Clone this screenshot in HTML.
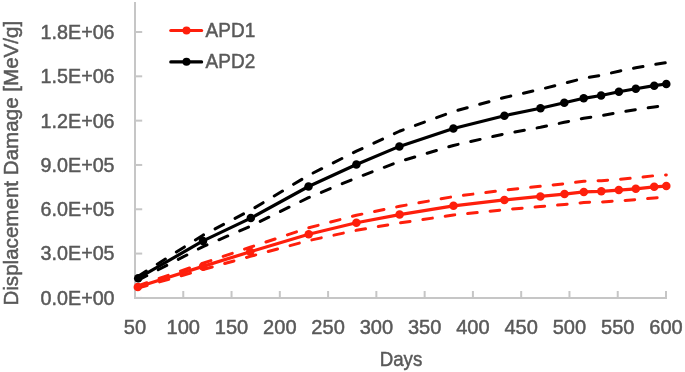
<!DOCTYPE html>
<html><head><meta charset="utf-8"><style>
html,body{margin:0;padding:0;background:#fff;}
svg{display:block;will-change:transform;}
#w{width:685px;height:372px;}
.t{font-family:"Liberation Sans",sans-serif;font-size:21px;fill:#595959;stroke:#595959;stroke-width:0.5px;}
</style></head><body>
<div id="w"><svg width="685" height="372" viewBox="0 0 685 372">
<rect width="685" height="372" fill="#fff"/>
<line x1="135" y1="2" x2="135" y2="298.9" stroke="#c6c6c6" stroke-width="2"/>
<line x1="134" y1="297.9" x2="667" y2="297.9" stroke="#c6c6c6" stroke-width="2"/>
<line x1="135" y1="297.90" x2="142.2" y2="297.90" stroke="#c6c6c6" stroke-width="2"/>
<line x1="135" y1="253.58" x2="142.2" y2="253.58" stroke="#c6c6c6" stroke-width="2"/>
<line x1="135" y1="209.27" x2="142.2" y2="209.27" stroke="#c6c6c6" stroke-width="2"/>
<line x1="135" y1="164.95" x2="142.2" y2="164.95" stroke="#c6c6c6" stroke-width="2"/>
<line x1="135" y1="120.64" x2="142.2" y2="120.64" stroke="#c6c6c6" stroke-width="2"/>
<line x1="135" y1="76.32" x2="142.2" y2="76.32" stroke="#c6c6c6" stroke-width="2"/>
<line x1="135" y1="32.00" x2="142.2" y2="32.00" stroke="#c6c6c6" stroke-width="2"/>
<line x1="183.27" y1="291" x2="183.27" y2="297.9" stroke="#c6c6c6" stroke-width="2"/>
<line x1="231.55" y1="291" x2="231.55" y2="297.9" stroke="#c6c6c6" stroke-width="2"/>
<line x1="279.82" y1="291" x2="279.82" y2="297.9" stroke="#c6c6c6" stroke-width="2"/>
<line x1="328.09" y1="291" x2="328.09" y2="297.9" stroke="#c6c6c6" stroke-width="2"/>
<line x1="376.36" y1="291" x2="376.36" y2="297.9" stroke="#c6c6c6" stroke-width="2"/>
<line x1="424.64" y1="291" x2="424.64" y2="297.9" stroke="#c6c6c6" stroke-width="2"/>
<line x1="472.91" y1="291" x2="472.91" y2="297.9" stroke="#c6c6c6" stroke-width="2"/>
<line x1="521.18" y1="291" x2="521.18" y2="297.9" stroke="#c6c6c6" stroke-width="2"/>
<line x1="569.45" y1="291" x2="569.45" y2="297.9" stroke="#c6c6c6" stroke-width="2"/>
<line x1="617.73" y1="291" x2="617.73" y2="297.9" stroke="#c6c6c6" stroke-width="2"/>
<line x1="666.00" y1="291" x2="666.00" y2="297.9" stroke="#c6c6c6" stroke-width="2"/>
<text x="114.60" y="304.80" text-anchor="end" textLength="74.0" lengthAdjust="spacingAndGlyphs" class="t">0.0E+00</text>
<text x="114.60" y="260.48" text-anchor="end" textLength="74.0" lengthAdjust="spacingAndGlyphs" class="t">3.0E+05</text>
<text x="114.60" y="216.17" text-anchor="end" textLength="74.0" lengthAdjust="spacingAndGlyphs" class="t">6.0E+05</text>
<text x="114.60" y="171.85" text-anchor="end" textLength="74.0" lengthAdjust="spacingAndGlyphs" class="t">9.0E+05</text>
<text x="114.60" y="127.54" text-anchor="end" textLength="74.0" lengthAdjust="spacingAndGlyphs" class="t">1.2E+06</text>
<text x="114.60" y="83.22" text-anchor="end" textLength="74.0" lengthAdjust="spacingAndGlyphs" class="t">1.5E+06</text>
<text x="114.60" y="38.90" text-anchor="end" textLength="74.0" lengthAdjust="spacingAndGlyphs" class="t">1.8E+06</text>
<text x="135.00" y="334.4" text-anchor="middle" textLength="22.30" lengthAdjust="spacingAndGlyphs" class="t">50</text>
<text x="183.27" y="334.4" text-anchor="middle" textLength="33.45" lengthAdjust="spacingAndGlyphs" class="t">100</text>
<text x="231.55" y="334.4" text-anchor="middle" textLength="33.45" lengthAdjust="spacingAndGlyphs" class="t">150</text>
<text x="279.82" y="334.4" text-anchor="middle" textLength="33.45" lengthAdjust="spacingAndGlyphs" class="t">200</text>
<text x="328.09" y="334.4" text-anchor="middle" textLength="33.45" lengthAdjust="spacingAndGlyphs" class="t">250</text>
<text x="376.36" y="334.4" text-anchor="middle" textLength="33.45" lengthAdjust="spacingAndGlyphs" class="t">300</text>
<text x="424.64" y="334.4" text-anchor="middle" textLength="33.45" lengthAdjust="spacingAndGlyphs" class="t">350</text>
<text x="472.91" y="334.4" text-anchor="middle" textLength="33.45" lengthAdjust="spacingAndGlyphs" class="t">400</text>
<text x="521.18" y="334.4" text-anchor="middle" textLength="33.45" lengthAdjust="spacingAndGlyphs" class="t">450</text>
<text x="569.45" y="334.4" text-anchor="middle" textLength="33.45" lengthAdjust="spacingAndGlyphs" class="t">500</text>
<text x="617.73" y="334.4" text-anchor="middle" textLength="33.45" lengthAdjust="spacingAndGlyphs" class="t">550</text>
<text x="666.00" y="334.4" text-anchor="middle" textLength="33.45" lengthAdjust="spacingAndGlyphs" class="t">600</text>
<text x="401" y="366" text-anchor="middle" textLength="42.6" lengthAdjust="spacingAndGlyphs" class="t">Days</text>
<text transform="translate(18.0,163.2) rotate(-90)" x="0" y="0" text-anchor="middle" textLength="284.8" lengthAdjust="spacingAndGlyphs" class="t">Displacement Damage [MeV/g]</text>
<polyline points="137.80,285.91 203.00,263.25 250.20,247.19 308.70,227.83 356.40,215.29 399.60,206.27 453.50,196.59 504.40,190.10 540.40,186.25 564.50,183.72 583.80,181.30 601.30,180.64 618.80,179.32 635.80,177.89 654.20,175.69 666.30,174.92" fill="none" stroke="#fe1f0c" stroke-width="3" stroke-dasharray="9.6 12.98" stroke-linecap="round" stroke-linejoin="round"/>
<polyline points="137.80,288.09 203.00,269.55 250.20,256.41 308.70,240.57 356.40,230.31 399.60,222.93 453.50,215.01 504.40,209.70 540.40,206.55 564.50,204.48 583.80,202.50 601.30,201.96 618.80,200.88 635.80,199.71 654.20,197.91 666.30,197.28" fill="none" stroke="#fe1f0c" stroke-width="3" stroke-dasharray="9.6 12.98" stroke-linecap="round" stroke-linejoin="round"/>
<polyline points="138.20,276.23 203.00,235.20 250.80,210.12 308.50,175.36 356.40,151.16 399.40,131.25 453.40,111.56 504.40,97.48 540.50,89.34 564.30,83.29 583.70,78.34 601.10,75.26 618.90,71.19 635.80,67.78 654.20,64.48 666.30,62.61" fill="none" stroke="#000000" stroke-width="3" stroke-dasharray="9.6 12.98" stroke-linecap="round" stroke-linejoin="round"/>
<polyline points="138.20,280.17 203.00,246.60 250.80,226.08 308.50,197.64 356.40,177.84 399.40,161.55 453.40,145.44 504.40,133.92 540.50,127.26 564.30,122.31 583.70,118.26 601.10,115.74 618.90,112.41 635.80,109.62 654.20,106.92 666.30,105.39" fill="none" stroke="#000000" stroke-width="3" stroke-dasharray="9.6 12.98" stroke-linecap="round" stroke-linejoin="round"/>
<polyline points="137.80,287.00 203.00,266.40 250.20,251.80 308.70,234.20 356.40,222.80 399.60,214.60 453.50,205.80 504.40,199.90 540.40,196.40 564.50,194.10 583.80,191.90 601.30,191.30 618.80,190.10 635.80,188.80 654.20,186.80 666.30,186.10" fill="none" stroke="#fe1f0c" stroke-width="3.2" stroke-linejoin="round" stroke-linecap="round"/>
<circle cx="137.80" cy="287.00" r="4.25" fill="#fe1f0c"/>
<circle cx="203.00" cy="266.40" r="4.25" fill="#fe1f0c"/>
<circle cx="250.20" cy="251.80" r="4.25" fill="#fe1f0c"/>
<circle cx="308.70" cy="234.20" r="4.25" fill="#fe1f0c"/>
<circle cx="356.40" cy="222.80" r="4.25" fill="#fe1f0c"/>
<circle cx="399.60" cy="214.60" r="4.25" fill="#fe1f0c"/>
<circle cx="453.50" cy="205.80" r="4.25" fill="#fe1f0c"/>
<circle cx="504.40" cy="199.90" r="4.25" fill="#fe1f0c"/>
<circle cx="540.40" cy="196.40" r="4.25" fill="#fe1f0c"/>
<circle cx="564.50" cy="194.10" r="4.25" fill="#fe1f0c"/>
<circle cx="583.80" cy="191.90" r="4.25" fill="#fe1f0c"/>
<circle cx="601.30" cy="191.30" r="4.25" fill="#fe1f0c"/>
<circle cx="618.80" cy="190.10" r="4.25" fill="#fe1f0c"/>
<circle cx="635.80" cy="188.80" r="4.25" fill="#fe1f0c"/>
<circle cx="654.20" cy="186.80" r="4.25" fill="#fe1f0c"/>
<circle cx="666.30" cy="186.10" r="4.25" fill="#fe1f0c"/>
<polyline points="138.20,278.20 203.00,240.90 250.80,218.10 308.50,186.50 356.40,164.50 399.40,146.40 453.40,128.50 504.40,115.70 540.50,108.30 564.30,102.80 583.70,98.30 601.10,95.50 618.90,91.80 635.80,88.70 654.20,85.70 666.30,84.00" fill="none" stroke="#000000" stroke-width="3.2" stroke-linejoin="round" stroke-linecap="round"/>
<circle cx="138.20" cy="278.20" r="4.25" fill="#000000"/>
<circle cx="203.00" cy="240.90" r="4.25" fill="#000000"/>
<circle cx="250.80" cy="218.10" r="4.25" fill="#000000"/>
<circle cx="308.50" cy="186.50" r="4.25" fill="#000000"/>
<circle cx="356.40" cy="164.50" r="4.25" fill="#000000"/>
<circle cx="399.40" cy="146.40" r="4.25" fill="#000000"/>
<circle cx="453.40" cy="128.50" r="4.25" fill="#000000"/>
<circle cx="504.40" cy="115.70" r="4.25" fill="#000000"/>
<circle cx="540.50" cy="108.30" r="4.25" fill="#000000"/>
<circle cx="564.30" cy="102.80" r="4.25" fill="#000000"/>
<circle cx="583.70" cy="98.30" r="4.25" fill="#000000"/>
<circle cx="601.10" cy="95.50" r="4.25" fill="#000000"/>
<circle cx="618.90" cy="91.80" r="4.25" fill="#000000"/>
<circle cx="635.80" cy="88.70" r="4.25" fill="#000000"/>
<circle cx="654.20" cy="85.70" r="4.25" fill="#000000"/>
<circle cx="666.30" cy="84.00" r="4.25" fill="#000000"/>
<line x1="170.8" y1="30.5" x2="201.6" y2="30.5" stroke="#fe1f0c" stroke-width="3.2" stroke-linecap="round"/>
<circle cx="186.5" cy="30.4" r="4" fill="#fe1f0c"/>
<text x="205.6" y="37.0" textLength="49.6" lengthAdjust="spacingAndGlyphs" class="t">APD1</text>
<line x1="170.8" y1="61.9" x2="201.6" y2="61.9" stroke="#000000" stroke-width="3.2" stroke-linecap="round"/>
<circle cx="186.5" cy="61.8" r="4" fill="#000000"/>
<text x="205.6" y="68.3" textLength="49.6" lengthAdjust="spacingAndGlyphs" class="t">APD2</text>
</svg></div>
</body></html>
